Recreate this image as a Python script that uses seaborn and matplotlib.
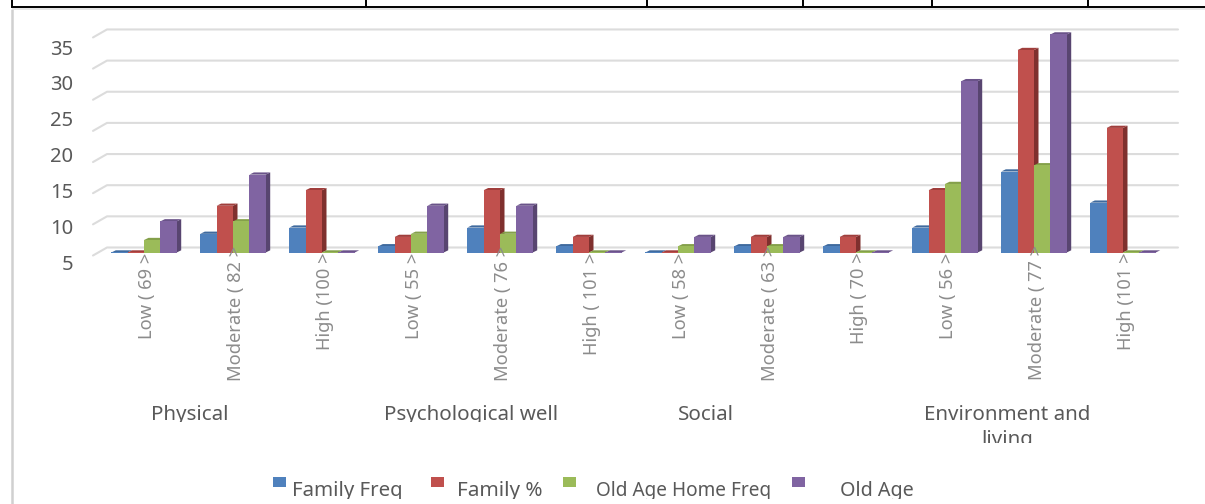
import matplotlib
matplotlib.use("Agg")
import matplotlib.pyplot as plt
import pandas as pd
import seaborn as sns
from matplotlib.lines import Line2D
from matplotlib.patches import Polygon, Rectangle
from matplotlib.transforms import Bbox, ScaledTranslation

# ---- data -------------------------------------------------------------
categories = ["Low ( 69 >", "Moderate ( 82 >", "High (100 >",
              "Low ( 55 >", "Moderate ( 76 >", "High ( 101 >",
              "Low ( 58 >", "Moderate ( 63 >", "High ( 70 >",
              "Low ( 56 >", "Moderate ( 77 >", "High (101 >"]
family_freq = [5, 8, 9, 6, 9, 6, 5, 6, 6, 9, 18, 13]
family_pct = [5, 12.5, 15, 7.5, 15, 7.5, 5, 7.5, 7.5, 15, 37.5, 25]
home_freq = [7, 10, 5, 8, 8, 5, 6, 6, 5, 16, 19, 5]
old_age = [10, 17.5, 5, 12.5, 12.5, 5, 7.5, 7.5, 5, 32.5, 40, 5]
series_names = ["Family Freq", "Family %", "Old Age Home Freq", "Old Age"]
y_ticks = [5, 10, 15, 20, 25, 30, 35]
grid_values = [5, 10, 15, 20, 25, 30, 35, 40]
group_names = ["Physical", "Psychological well", "Social", "Environment and", "living"]

front = ["#4F81BD", "#C0504D", "#9BBB59", "#8064A2"]
side = ["#3A5F8C", "#7F302E", "#728C40", "#584570"]
top = ["#3F6A9E", "#A03E3C", "#84A04A", "#6A5389"]
TEXT = "#595959"

W, H = 1205, 504
plt.rcParams["font.family"] = ["Noto Sans", "DejaVu Sans"]
sns.set_theme(style="white", rc={"font.family": ["Noto Sans", "DejaVu Sans"]})

fig = plt.figure(figsize=(W / 100, H / 100), dpi=100, facecolor="white")


def px_axes(x0, y_top, x1, y_bottom):
    return fig.add_axes([x0 / W, 1 - y_bottom / H, (x1 - x0) / W, (y_bottom - y_top) / H])


# plot area: category i sits at pixel 144 + 89 i; value 5 at pixel 252.5
PX_PER_CAT, PX_PER_UNIT = 89.0, 6.23
ax_l, ax_r, ax_t, ax_b = 93, 1178, 25, 252.5
ax = px_axes(ax_l, ax_t, ax_r, ax_b)
ax.patch.set_alpha(0)

df = pd.DataFrame({
    "cat": list(range(len(categories))) * 4,
    "series": sum([[n] * len(categories) for n in series_names], []),
    "value": family_freq + family_pct + home_freq + old_age,
})
sns.barplot(data=df, x="cat", y="value", hue="series", hue_order=series_names,
            palette=front, saturation=1, width=0.735, gap=0, legend=False, ax=ax,
            linewidth=0, errorbar=None)

ax.set_xlim((ax_l - 144) / PX_PER_CAT, (ax_r - 144) / PX_PER_CAT)
ax.set_ylim(5, 5 + (ax_b - ax_t) / PX_PER_UNIT)

# back-wall gridlines with the floor stub at their left end
wall_dy = 5 / PX_PER_UNIT
ddx, ddy = 4.5 / PX_PER_CAT, 2.2 / PX_PER_UNIT
x_stub, x_wall = (ax_l - 144) / PX_PER_CAT, (107 - 144) / PX_PER_CAT
x_end = (ax_r - 144) / PX_PER_CAT
for v in grid_values:
    ax.plot([x_stub, x_wall, x_end],
            [v + (5 - 8) / PX_PER_UNIT, v + wall_dy, v + wall_dy],
            color="#DCDCDC", lw=1.5, zorder=0.5, clip_on=False)

# extruded faces of the bars
for i, cont in enumerate(ax.containers):
    for bar in cont:
        x0, x1 = bar.get_x(), bar.get_x() + bar.get_width()
        h = bar.get_height()
        bar.set_zorder(1.2 + i * 0.1)
        ax.add_patch(Polygon([(x1, 5), (x1 + ddx, 5 + ddy), (x1 + ddx, h + ddy), (x1, h)],
                             closed=True, fc=side[i], ec="none", zorder=1.15 + i * 0.1))
        ax.add_patch(Polygon([(x0, h), (x1, h), (x1 + ddx, h + ddy), (x0 + ddx, h + ddy)],
                             closed=True, fc=top[i], ec="none", zorder=1.15 + i * 0.1))

ax.set_xlabel("")
ax.set_ylabel("")
ax.set_yticks([])
for s in ax.spines.values():
    s.set_visible(False)
ax.set_axisbelow(False)
ax.set_xticks(range(len(categories)))
ax.set_xticklabels(categories, rotation=90, va="top", ha="center",
                   fontsize=13.2, color="#8C8C8C")
ax.tick_params(axis="x", length=0, pad=0)
for lab, name in zip(ax.get_xticklabels(), categories):
    up = 7 if name.startswith("Moderate") else 0
    lab.set_transform(lab.get_transform() +
                      ScaledTranslation(3 / 100, up / 100, fig.dpi_scale_trans))

# value labels have their own, wider spacing than the gridlines
lab_ax = px_axes(ax_l, 47, ax_l + 10, 262)
lab_ax.patch.set_alpha(0)
lab_ax.set_xticks([])
lab_ax.set_ylim(5, 35)
lab_ax.set_yticks(y_ticks)
lab_ax.tick_params(axis="y", length=0, pad=14.4, labelsize=14.5, labelcolor=TEXT)
for s in lab_ax.spines.values():
    s.set_visible(False)


def clipped_text(x, y, s, clip_y, ha="center", size=14.8):
    t = fig.text(x / W, 1 - y / H, s, ha=ha, va="baseline", fontsize=size, color=TEXT)
    t.set_clip_box(Bbox([[0, H - clip_y], [W, H]]))
    t.set_clip_on(True)
    return t


# group captions, cut off as in the source
for cx, base, clip, name in zip([190, 471, 706, 1007, 1007],
                                [420, 420, 420, 420, 445],
                                [421.5, 421.5, 421.5, 443, 443],
                                group_names):
    clipped_text(cx, base, name, clip)

# legend
for x_sq, x_txt, size, col, name in zip([273, 431, 563, 792], [292, 457, 596, 840],
                                        [14.7, 14.9, 13.7, 14.2], front, series_names):
    fig.add_artist(Rectangle((x_sq / W, 1 - 487 / H), 13 / W, 10 / H, fc=col, ec="none",
                             transform=fig.transFigure))
    clipped_text(x_txt, 496, name, 498.5, ha="left", size=size)

# page furniture around the chart: table rule above, frame at left and top
def rule(x0, y0, x1, y1, color, lw):
    fig.add_artist(Line2D([x0 / W, x1 / W], [1 - y0 / H, 1 - y1 / H], color=color, lw=lw,
                          solid_capstyle="butt"))


rule(12, 8.5, 12, 504, "#D0D0D0", 1.8)
rule(12, 8.5, W, 8.5, "#E2E2E2", 1.2)
rule(11, 6.5, W, 6.5, "black", 1.4)
for x in [12, 366.5, 647, 803, 932, 1088]:
    rule(x, 0, x, 6.5, "black", 1.4)

fig.savefig("out.png", dpi=100, facecolor="white")
